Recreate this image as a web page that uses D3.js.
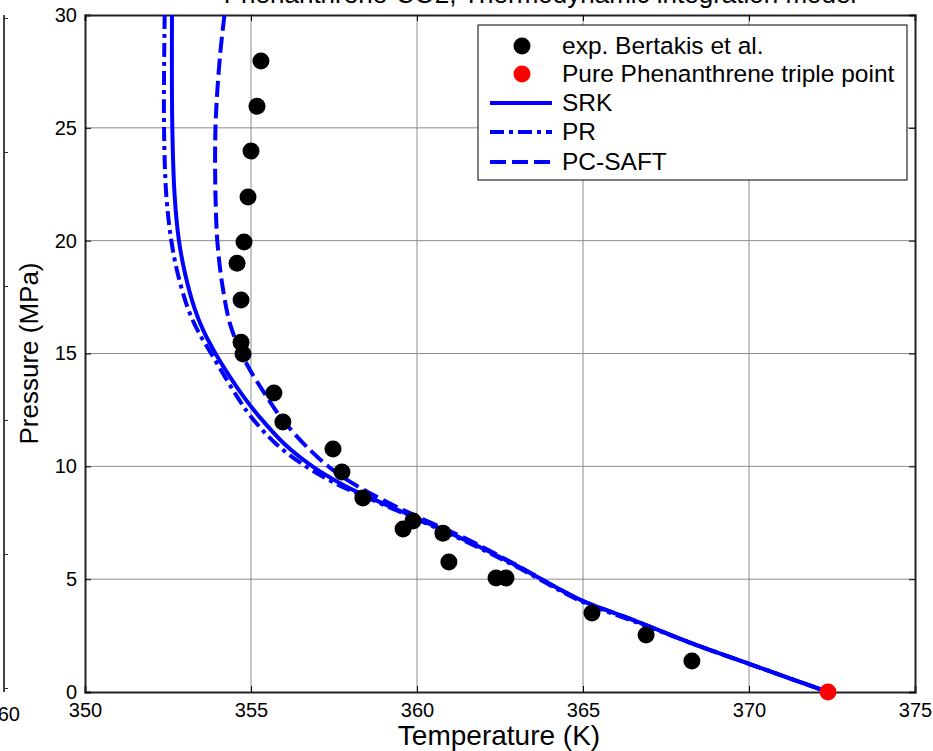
<!DOCTYPE html>
<html>
<head>
<meta charset="utf-8">
<script src="https://cdn.jsdelivr.net/npm/d3@7"></script>
<style>
  body { margin: 0; background: #fff; }
  svg { font-family: "Liberation Sans", Arial, sans-serif; }
</style>
</head>
<body>
<script>
// experimental points (Bertakis et al.)
const expT = [355.3, 355.18, 355.0, 354.91, 354.79, 354.58, 354.7, 354.7, 354.76, 355.69, 355.96,
              357.47, 357.74, 358.37, 359.58, 359.88, 360.78, 360.96, 362.38, 362.68, 365.27, 366.9, 368.28];
const expP = [27.96, 25.96, 23.97, 21.93, 19.94, 19.0, 17.37, 15.5, 14.98, 13.25, 11.96,
              10.77, 9.75, 8.6, 7.22, 7.58, 7.04, 5.76, 5.05, 5.05, 3.5, 2.53, 1.37];

const tripleT = [372.38];
const tripleP = [0];

const srkT = [352.62, 352.63, 352.7, 352.83, 353.02, 353.3, 353.57, 353.93, 354.35, 354.82, 355.25,
              356.0, 356.85, 357.75, 358.6, 360.0, 361.5, 363.0, 364.9, 366.5, 368.2, 370.0, 371.2, 372.38];
const srkP = [30, 25, 22, 20, 18.5, 17, 16, 15, 14, 13, 12.2,
              11, 10, 9.2, 8.6, 7.7, 6.7, 5.6, 4.1, 3.2, 2.2, 1.25, 0.62, 0];

const prT = [352.4, 352.38, 352.45, 352.6, 352.8, 353.1, 353.4, 353.8, 354.2, 354.62, 355.0,
             355.75, 356.65, 357.6, 358.6, 360.0, 361.5, 363.0, 364.9, 366.5, 368.2, 370.0, 371.2, 372.38];
const prP = [30, 25, 22, 20, 18.5, 17, 16, 15, 14, 13, 12.2,
             11, 10, 9.2, 8.55, 7.65, 6.65, 5.55, 4.05, 3.15, 2.2, 1.25, 0.62, 0];

const saftT = [354.2, 354.08, 353.98, 353.93, 353.92, 353.95, 353.99, 354.13, 354.37, 354.67, 354.97,
               355.48, 355.96, 356.78, 357.59, 358.8, 360.0, 361.5, 363.0, 364.9, 366.5, 368.2, 370.0, 371.2, 372.38];
const saftP = [30, 28.4, 26.5, 25, 23, 21, 19.9, 18.1, 16.3, 15.15, 14.27,
               13.07, 12.05, 10.72, 9.7, 8.64, 7.78, 6.78, 5.62, 4.1, 3.2, 2.2, 1.25, 0.62, 0];

const xTicks = [350, 355, 360, 365, 370, 375];
const yTicks = [0, 5, 10, 15, 20, 25, 30];

const legendLabels = ["exp. Bertakis et al.", "Pure Phenanthrene triple point", "SRK", "PR", "PC-SAFT"];

const W = 933, H = 751;
const mL = 85, mR = 915, mT = 15, mB = 692;
const blue = "#0000ff";

const svg = d3.select("body").append("svg")
  .attr("width", W)
  .attr("height", H);

const x = d3.scaleLinear().domain([350, 375]).range([mL, mR]);
const y = d3.scaleLinear().domain([0, 30]).range([mB, mT]);

// title, cut off at the top edge as in the source image
svg.append("text")
  .attr("x", 540).attr("y", 3)
  .attr("text-anchor", "middle")
  .style("font-size", "26px")
  .text("Phenanthrene-CO2, Thermodynamic integration model");

// leftover axis of a neighbouring panel on the left edge
const ghost = d3.scaleLinear().domain([0, 5]).range([mB - 4, 18]);
svg.append("line")
  .attr("x1", 4).attr("x2", 4).attr("y1", 15).attr("y2", mB)
  .attr("stroke", "#444").attr("stroke-width", 2);
svg.append("g")
  .attr("transform", "translate(4,0)")
  .call(d3.axisRight(ghost).ticks(5).tickSize(4).tickFormat(""))
  .call(g => g.select(".domain").remove())
  .call(g => g.selectAll("line").attr("stroke", "#333"));
svg.append("text")
  .attr("x", 20).attr("y", 721)
  .attr("text-anchor", "end")
  .style("font-size", "20px")
  .text("360");

// grid
const grid = svg.append("g").attr("stroke", "#8c8c8c").attr("stroke-width", 1);
grid.selectAll(".gx").data(xTicks.slice(1, -1)).enter().append("line")
  .attr("x1", d => x(d)).attr("x2", d => x(d))
  .attr("y1", mT).attr("y2", mB);
grid.selectAll(".gy").data(yTicks.slice(1, -1)).enter().append("line")
  .attr("x1", mL).attr("x2", mR)
  .attr("y1", d => y(d)).attr("y2", d => y(d));

// axes, ticks pointing inwards
const xAxis = d3.axisBottom(x).tickValues(xTicks).tickSize(-6).tickPadding(11);
const yAxis = d3.axisLeft(y).tickValues(yTicks).tickSize(-6).tickPadding(8);

svg.append("g").attr("transform", `translate(0,${mB})`).call(xAxis)
  .call(g => g.selectAll("text").style("font-size", "20px").attr("fill", "#000"));
svg.append("g").attr("transform", `translate(${mL},0)`).call(yAxis)
  .call(g => g.selectAll("text").style("font-size", "20px").attr("fill", "#000"));
svg.append("g").attr("transform", `translate(0,${mT})`)
  .call(d3.axisTop(x).tickValues(xTicks).tickSize(-6).tickFormat(""));
svg.append("g").attr("transform", `translate(${mR},0)`)
  .call(d3.axisRight(y).tickValues(yTicks).tickSize(-6).tickFormat(""));
svg.selectAll(".domain").attr("stroke", "#222").attr("stroke-width", 2);

// axis titles
svg.append("text")
  .attr("x", 499).attr("y", 745)
  .attr("text-anchor", "middle")
  .style("font-size", "28px")
  .text("Temperature (K)");
svg.append("text")
  .attr("transform", `translate(38,${(mT + mB) / 2}) rotate(-90)`)
  .attr("text-anchor", "middle")
  .style("font-size", "26px")
  .text("Pressure (MPa)");

// model curves
const plot = svg.append("g");
const line = d3.line()
  .x(d => x(d[0]))
  .y(d => y(d[1]))
  .curve(d3.curveCatmullRom.alpha(0.5));

const curves = [
  { T: prT, P: prP, dash: "14,5,4,5" },
  { T: saftT, P: saftP, dash: "16,6" },
  { T: srkT, P: srkP, dash: null }
];
curves.forEach(c => {
  plot.append("path")
    .datum(d3.zip(c.T, c.P))
    .attr("d", line)
    .attr("fill", "none")
    .attr("stroke", blue)
    .attr("stroke-width", 4)
    .attr("stroke-dasharray", c.dash);
});

// experimental points
plot.selectAll(".exp")
  .data(d3.zip(expT, expP))
  .enter().append("circle")
  .attr("cx", d => x(d[0]))
  .attr("cy", d => y(d[1]))
  .attr("r", 8.5)
  .attr("fill", "#000");

plot.selectAll(".tp")
  .data(d3.zip(tripleT, tripleP))
  .enter().append("circle")
  .attr("cx", d => x(d[0]))
  .attr("cy", d => y(d[1]))
  .attr("r", 8.5)
  .attr("fill", "#ff0000");

// legend
const lg = svg.append("g");
lg.append("rect")
  .attr("x", 478).attr("y", 25)
  .attr("width", 429).attr("height", 155)
  .attr("fill", "#fff")
  .attr("stroke", "#000")
  .attr("stroke-width", 1);

const rowY = [46, 74, 103, 132, 162];
const kinds = [
  { type: "dot", color: "#000" },
  { type: "dot", color: "#ff0000" },
  { type: "line", dash: null },
  { type: "line", dash: "14,5,4,5" },
  { type: "line", dash: "16,6" }
];
legendLabels.forEach((lab, i) => {
  const k = kinds[i];
  if (k.type === "dot") {
    lg.append("circle")
      .attr("cx", 522).attr("cy", rowY[i])
      .attr("r", 8.5).attr("fill", k.color);
  } else {
    lg.append("line")
      .attr("x1", 490).attr("x2", 552)
      .attr("y1", rowY[i]).attr("y2", rowY[i])
      .attr("stroke", blue).attr("stroke-width", 4)
      .attr("stroke-dasharray", k.dash);
  }
  lg.append("text")
    .attr("x", 562).attr("y", rowY[i] + 8)
    .style("font-size", "24.5px")
    .text(lab);
});
</script>
</body>
</html>
